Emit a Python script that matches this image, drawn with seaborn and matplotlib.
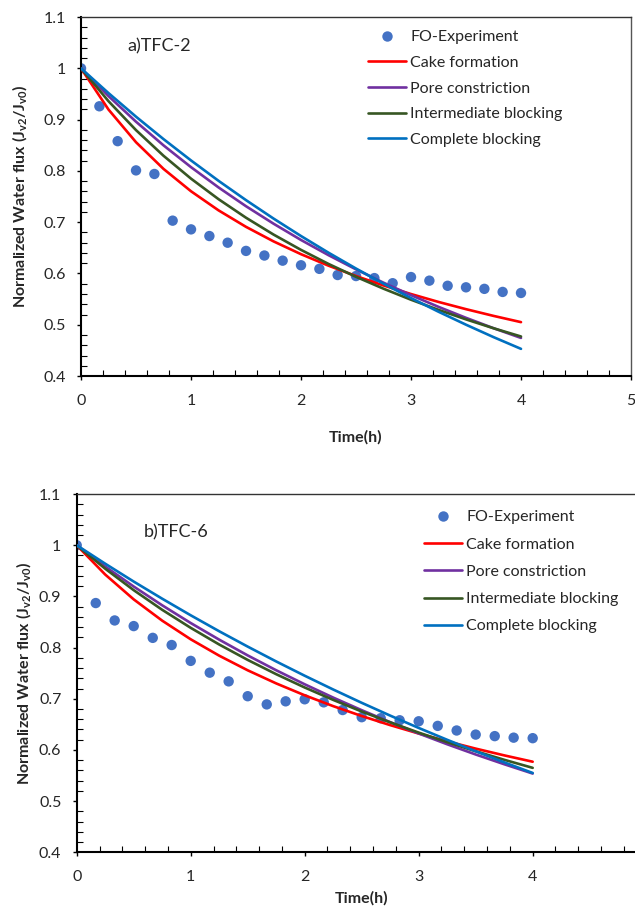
import matplotlib
matplotlib.use("Agg")
import matplotlib.pyplot as plt
import seaborn as sns
import pandas as pd
from matplotlib.ticker import MultipleLocator, FuncFormatter
from matplotlib.lines import Line2D

# ---------------- data ----------------
t_exp = [0, 0.167, 0.333, 0.5, 0.667, 0.833, 1.0, 1.167, 1.333, 1.5, 1.667, 1.833,
         2.0, 2.167, 2.333, 2.5, 2.667, 2.833, 3.0, 3.167, 3.333, 3.5, 3.667, 3.833, 4.0]
exp_a = [1.0, 0.926, 0.858, 0.801, 0.794, 0.703, 0.686, 0.673, 0.660, 0.644, 0.635, 0.625,
         0.616, 0.609, 0.597, 0.595, 0.591, 0.581, 0.593, 0.586, 0.576, 0.573, 0.570, 0.564, 0.562]
exp_b = [1.0, 0.887, 0.853, 0.842, 0.819, 0.805, 0.774, 0.751, 0.734, 0.705, 0.689, 0.695,
         0.699, 0.693, 0.678, 0.664, 0.662, 0.658, 0.656, 0.647, 0.638, 0.630, 0.627, 0.624, 0.623]

t_model = [0, 0.25, 0.5, 0.75, 1.0, 1.25, 1.5, 1.75, 2.0, 2.25, 2.5, 2.75, 3.0, 3.25, 3.5, 3.75, 4.0]
cake_a = [1.0, 0.9196, 0.8559, 0.8039, 0.7603, 0.7231, 0.6909, 0.6626, 0.6376, 0.6152, 0.5950,
          0.5766, 0.5599, 0.5445, 0.5304, 0.5173, 0.5051]
pore_a = [1.0, 0.9458, 0.8959, 0.8498, 0.8073, 0.7678, 0.7311, 0.6971, 0.6653, 0.6357, 0.6080,
          0.5820, 0.5577, 0.5349, 0.5135, 0.4933, 0.4743]
inter_a = [1.0, 0.9359, 0.8795, 0.8295, 0.7849, 0.7449, 0.7087, 0.6759, 0.6460, 0.6186, 0.5935,
           0.5703, 0.5488, 0.5290, 0.5105, 0.4932, 0.4771]
compl_a = [1.0, 0.9517, 0.9057, 0.8620, 0.8204, 0.7807, 0.7430, 0.7071, 0.6730, 0.6405, 0.6096,
           0.5801, 0.5521, 0.5254, 0.5001, 0.4759, 0.4530]

cake_b = [1.0, 0.9427, 0.8942, 0.8526, 0.8162, 0.7842, 0.7556, 0.7300, 0.7068, 0.6856, 0.6663,
          0.6485, 0.6321, 0.6168, 0.6026, 0.5894, 0.5770]
pore_b = [1.0, 0.9584, 0.9193, 0.8826, 0.8480, 0.8155, 0.7847, 0.7557, 0.7283, 0.7023, 0.6777,
          0.6543, 0.6322, 0.6111, 0.5911, 0.5721, 0.5539]
inter_b = [1.0, 0.9541, 0.9122, 0.8738, 0.8386, 0.8060, 0.7759, 0.7480, 0.7220, 0.6978, 0.6751,
           0.6539, 0.6339, 0.6151, 0.5975, 0.5808, 0.5650]
compl_b = [1.0, 0.9639, 0.9290, 0.8955, 0.8631, 0.8319, 0.8019, 0.7729, 0.7450, 0.7181, 0.6921,
           0.6671, 0.6430, 0.6198, 0.5974, 0.5758, 0.5550]

series_names = ["Cake formation", "Pore constriction", "Intermediate blocking", "Complete blocking"]
exp_name = "FO-Experiment"
panel_titles = ["a)TFC-2", "b)TFC-6"]

# ---------------- style ----------------
sns.set_theme(style="white")
plt.rcParams['font.family'] = ['Lato', 'DejaVu Sans']
plt.rcParams['mathtext.fontset'] = 'custom'
plt.rcParams['mathtext.rm'] = 'Lato'
plt.rcParams['mathtext.bf'] = 'Lato:bold'
plt.rcParams['mathtext.it'] = 'Lato:italic'

colors = ["#FF0000", "#7030A0", "#375623", "#0070C0"]
dot_color = "#4472C4"

fig = plt.figure(figsize=(6.35, 9.07), dpi=100)
ax1 = fig.add_axes([0.1276, 0.5854, 0.8661, 0.3958])
ax2 = fig.add_axes([0.1208, 0.0603, 0.8976, 0.3950])


def yfmt(v, p):
    if abs(v - 1) < 1e-9:
        return "1"
    return f"{v:.1f}"


def draw(ax, exp_vals, models, title, title_xy, leg_xy, leg_spacing,
         xlabelpad, ylabelpad, hide_last_x):
    sns.scatterplot(x=t_exp, y=exp_vals, ax=ax, color=dot_color, s=56,
                    edgecolor="none", linewidth=0, zorder=2)
    for vals, c in zip(models, colors):
        sns.lineplot(x=t_model, y=vals, ax=ax, color=c, linewidth=1.9, zorder=3)
    ax.set_xlim(0, 5)
    ax.set_ylim(0.4, 1.1)
    ax.xaxis.set_major_locator(MultipleLocator(1))
    ax.xaxis.set_minor_locator(MultipleLocator(0.2))
    ax.yaxis.set_major_locator(MultipleLocator(0.1))
    ax.yaxis.set_minor_locator(MultipleLocator(0.02))
    ax.yaxis.set_major_formatter(FuncFormatter(yfmt))
    if hide_last_x:
        ax.xaxis.set_major_formatter(FuncFormatter(lambda v, p: "" if v > 4.5 else f"{v:g}"))
    else:
        ax.xaxis.set_major_formatter(FuncFormatter(lambda v, p: f"{v:g}"))
    ax.tick_params(which='major', direction='out', length=3, width=1, color='black',
                   labelsize=11.5, left=True, bottom=True)
    ax.tick_params(axis='x', which='major', pad=10)
    ax.tick_params(axis='y', which='major', pad=8)
    ax.tick_params(which='minor', direction='in', length=4, width=0.8, color='black',
                   left=True, bottom=True)
    ax.set_xlabel("Time(h)", fontsize=11.5, fontweight='bold', labelpad=xlabelpad)
    ax.set_ylabel(r"Normalized Water flux (J$_{\mathbf{v2}}$/J$_{\mathbf{v0}}$)",
                  fontsize=11.5, fontweight='bold', labelpad=ylabelpad)
    for s in ['left', 'bottom']:
        ax.spines[s].set_color('black')
        ax.spines[s].set_linewidth(1.5)
    ax.spines['top'].set_color('#333333')
    ax.spines['top'].set_linewidth(1.0)
    ax.spines['right'].set_color('#555555')
    ax.spines['right'].set_linewidth(1.0)
    ax.text(title_xy[0], title_xy[1], title, fontsize=13, va='center', ha='left')
    handles = [Line2D([], [], marker='o', linestyle='none', color=dot_color,
                      markersize=7.5, markeredgewidth=0)]
    handles += [Line2D([], [], color=c, linewidth=1.9) for c in colors]
    ax.legend(handles, [exp_name] + series_names, loc='upper left',
              bbox_to_anchor=leg_xy, frameon=False, fontsize=11.5,
              handlelength=2.4, handletextpad=0.25, labelspacing=leg_spacing,
              borderaxespad=0, borderpad=0)


draw(ax1, exp_a, [cake_a, pore_a, inter_a, compl_a], panel_titles[0], (0.42, 1.042),
     (0.522, 0.964), 0.72, 16, 10, False)
draw(ax2, exp_b, [cake_b, pore_b, inter_b, compl_b], panel_titles[1], (0.59, 1.025),
     (0.609, 0.955), 0.82, 5, 4, True)

fig.savefig("out.png", dpi=100)
